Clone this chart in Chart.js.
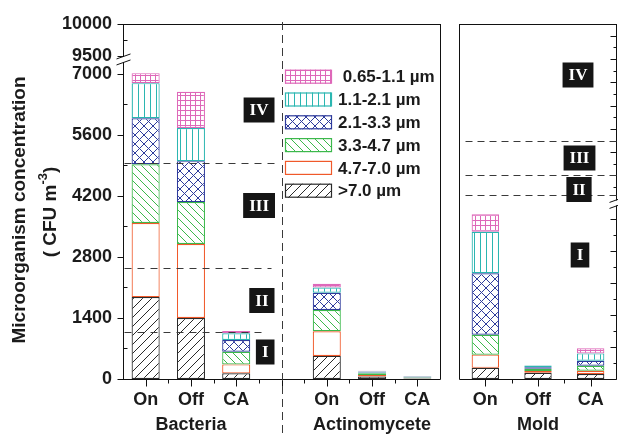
<!DOCTYPE html>
<html><head><meta charset="utf-8">
<script src="https://cdn.jsdelivr.net/npm/chart.js@4.4.1/dist/chart.umd.min.js"></script>
<style>
html,body{margin:0;padding:0;background:#fff;}
#wrap{position:relative;width:618px;height:435px;overflow:hidden;background:#fff;}
canvas{position:absolute;top:0;}
#cl{left:0;} #cm{left:450px;}
</style></head><body>
<div id="wrap"><canvas id="cl" width="450" height="435"></canvas><canvas id="cm" width="168" height="435"></canvas></div>
<script>
// ---------------- DATA ----------------
// size bins, stacking order bottom -> top
const binLabels = ['>7.0 µm', '4.7-7.0 µm', '3.3-4.7 µm', '2.1-3.3 µm', '1.1-2.1 µm', ' 0.65-1.1 µm'];
const leftCategories = ['On', 'Off', 'CA', '', 'On', 'Off', 'CA'];
const leftGroups = ['Bacteria', 'Actinomycete'];
const moldCategories = ['On', 'Off', 'CA'];
const moldGroup = 'Mold';
// Bacteria On/Off/CA, (gap), Actinomycete On/Off/CA  (CFU m-3)
const leftGt70   = [1880, 1400, 130, null, 530, 60, 10];
const left47_70  = [1700, 1700, 205, null, 565, 30, 10];
const left33_47  = [1350,  960, 290, null, 490, 40, 15];
const left21_33  = [1055,  940, 270, null, 395, 20, 10];
const left11_21  = [ 805,  760, 155, null, 120, 20, 15];
const left065_11 = [ 230,  830,  50, null,  85, 20, 10];
// Mold On/Off/CA
const moldGt70   = [140, 78, 62];
const mold47_70  = [165, 22, 42];
const mold33_47  = [250, 28, 62];
const mold21_33  = [770, 18, 63];
const mold11_21  = [520, 22, 92];
const mold065_11 = [220,  5, 63];
// axis ticks
const leftYTicks = [0, 1400, 2800, 4200, 5600, 7000, 9500, 10000];
const leftYTickLabels = ['0', '1400', '2800', '4200', '5600', '7000', '9500', '10000'];
const leftYMinor = [700, 2100, 3500, 4900, 6300, 9750];
const moldYMajor = [0, 400, 800, 1200, 1600, 2000, 3500, 4500, 5500, 6500, 7500, 8500, 9500];
const moldYMinor = [200, 600, 1000, 1400, 1800, 3000, 4000, 5000, 6000, 7000, 8000, 9000];
// pollution level boundaries (I/II, II/III, III/IV)
const leftLevels = [1080, 2540, 4960];
const moldLevels = [2650, 3500, 5000];
const levelNames = ['I', 'II', 'III', 'IV'];

// ---------------- STYLE ----------------
const binColors = ['#2a2a2a', '#f0592a', '#3cb84c', '#2e3b9c', '#2bb6b1', '#de68b9'];
const binKinds  = ['fwd', 'none', 'back', 'cross', 'vert', 'grid'];
const FONT = '"Liberation Sans", Arial, sans-serif';
const SERIF = '"Liberation Serif", "Times New Roman", serif';
const TXT = '#1b1b1b';

// broken-axis transforms
const L_LO = 7300, L_HI = 9500, L_BASE = 7413, L_RATIO = 1.469;
function tL(v) { return v <= L_LO ? v : L_BASE + (v - L_HI) * L_RATIO; }
const M_LO = 2200, M_HI = 2300, M_RATIO = 0.292;
function tM(v) { return v <= M_LO ? v : M_LO + (v - M_HI) * M_RATIO; }

function makePattern(kind, color) {
  const c = document.createElement('canvas');
  const s = {grid: 5, vert: 6, cross: 9, back: 8, fwd: 9, none: 4}[kind];
  c.width = s; c.height = s;
  const g = c.getContext('2d');
  g.fillStyle = '#fff'; g.fillRect(0, 0, s, s);
  g.strokeStyle = color; g.lineWidth = 1;
  g.beginPath();
  if (kind === 'grid') { g.moveTo(0.5, 0); g.lineTo(0.5, s); g.moveTo(0, 0.5); g.lineTo(s, 0.5); }
  if (kind === 'vert') { g.moveTo(0.5, 0); g.lineTo(0.5, s); }
  if (kind === 'back' || kind === 'cross') {
    g.moveTo(-1, -1); g.lineTo(s + 1, s + 1);
    g.moveTo(-1, s - 1); g.lineTo(1, s + 1);
    g.moveTo(s - 1, -1); g.lineTo(s + 1, 1);
  }
  if (kind === 'fwd' || kind === 'cross') {
    g.moveTo(-1, s + 1); g.lineTo(s + 1, -1);
    g.moveTo(-1, 1); g.lineTo(1, -1);
    g.moveTo(s - 1, s + 1); g.lineTo(s + 1, s - 1);
  }
  g.stroke();
  return g.createPattern(c, 'repeat');
}
const binPatterns = binKinds.map((k, i) => makePattern(k, binColors[i]));

function datasets(series, barPct) {
  return series.map((d, i) => ({
    label: binLabels[i], data: d,
    backgroundColor: binPatterns[i], borderColor: binColors[i], borderWidth: 1.2,
    borderSkipped: false, stack: 's', barPercentage: barPct, categoryPercentage: 1
  }));
}

function seg(ctx, x1, y1, x2, y2) { ctx.beginPath(); ctx.moveTo(x1, y1); ctx.lineTo(x2, y2); ctx.stroke(); }
function levelBox(ctx, text, x, cy, anchor) {
  ctx.font = 'bold 17px ' + SERIF;
  const w = ctx.measureText(text).width + 12, h = 25;
  const left = anchor === 'right' ? x - w : x - w / 2;
  ctx.fillStyle = '#151515';
  ctx.fillRect(left, cy - h / 2, w, h);
  ctx.fillStyle = '#fff'; ctx.textAlign = 'center'; ctx.textBaseline = 'middle';
  ctx.fillText(text, left + w / 2, cy + 1);
}
function slashes(ctx, x, yc) {
  ctx.fillStyle = '#fff';
  ctx.fillRect(x - 3, yc - 2.5, 6, 5);
  ctx.strokeStyle = '#111'; ctx.lineWidth = 1;
  seg(ctx, x - 7, yc - 0.5, x + 7, yc - 5.5);
  seg(ctx, x - 7, yc + 5.5, x + 7, yc + 0.5);
}

// ---------------- LEFT PANEL ----------------
const leftDecor = {
  id: 'leftDecor',
  afterDraw(chart) {
    const {ctx, chartArea: a, scales: {x, y}} = chart;
    ctx.save();
    ctx.strokeStyle = '#111'; ctx.lineWidth = 1;
    const L = a.left + 0.5, R = a.right + 0.5, T = a.top + 0.5, B = Math.round(a.bottom) + 0.5;
    seg(ctx, L, a.top, L, B); seg(ctx, L, T, R, T); seg(ctx, R, a.top, R, B); seg(ctx, a.left, B, R, B);
    // y ticks
    leftYTicks.forEach(v => { const p = Math.round(y.getPixelForValue(tL(v))) + 0.5; seg(ctx, L - 6, p, L, p); });
    leftYMinor.forEach(v => { const p = Math.round(y.getPixelForValue(tL(v))) + 0.5; seg(ctx, L, p, L + 4, p); });
    // x ticks
    const n = leftCategories.length;
    for (let i = 0; i < n; i++) {
      const px = Math.round(x.getPixelForTick(i)) + 0.5;
      seg(ctx, px, B, px, B + 7);
      if (i < n - 1) { const q = Math.round((x.getPixelForTick(i) + x.getPixelForTick(i + 1)) / 2) + 0.5; seg(ctx, q, B, q, B + 4); }
    }
    // axis break
    const yb = (y.getPixelForValue(tL(L_LO)) + y.getPixelForValue(tL(L_HI))) / 2 + 1;
    slashes(ctx, L, yb);
    // level dashed lines
    const x3 = x.getPixelForTick(3);
    const ends = [x3 - 15, x3 - 10, x3 - 1];
    ctx.strokeStyle = '#3a3a3a'; ctx.setLineDash([7, 6]);
    leftLevels.forEach((v, i) => { const p = Math.round(y.getPixelForValue(tL(v))) + 0.5; seg(ctx, L + 1, p, ends[i], p); });
    ctx.setLineDash([8, 5]);
    seg(ctx, Math.round(x3) + 0.5, 22, Math.round(x3) + 0.5, 433);
    ctx.setLineDash([]);
    // level boxes
    const boxes = [[352, 274.5], [300.5, 274.5], [205.5, 275], [110, 274.5]];
    boxes.forEach((b, i) => levelBox(ctx, levelNames[i], b[1], b[0], 'right'));
    // legend
    const lx = 285, ly = 76.7, dy = 22.8;
    for (let k = 0; k < binLabels.length; k++) {
      const i = binLabels.length - 1 - k;
      const cy = ly + k * dy;
      ctx.fillStyle = binPatterns[i];
      ctx.fillRect(lx, cy - 7, 47, 14);
      ctx.strokeStyle = binColors[i]; ctx.lineWidth = 1.2;
      ctx.strokeRect(lx + 0.5, cy - 6.5, 46, 13);
      ctx.fillStyle = TXT; ctx.font = 'bold 17px ' + FONT;
      ctx.textAlign = 'left'; ctx.textBaseline = 'middle';
      ctx.fillText(binLabels[i], 338, cy + 1);
    }
    // group titles
    ctx.font = 'bold 18px ' + FONT; ctx.textAlign = 'center'; ctx.textBaseline = 'middle'; ctx.fillStyle = TXT;
    ctx.fillText(leftGroups[0], x.getPixelForTick(1), 425);
    ctx.fillText(leftGroups[1], x.getPixelForTick(5), 425);
    // y title
    ctx.save();
    ctx.translate(20, 210); ctx.rotate(-Math.PI / 2);
    ctx.font = 'bold 19px ' + FONT; ctx.fillText('Microorganism concentration', 0, 0);
    ctx.restore();
    ctx.save();
    ctx.translate(51, 212); ctx.rotate(-Math.PI / 2);
    ctx.textAlign = 'left';
    const f1 = 'bold 19px ' + FONT, f2 = 'bold 13px ' + FONT;
    const p1 = '( CFU m', p2 = '-3', p3 = ')';
    ctx.font = f1; const w1 = ctx.measureText(p1).width, w3 = ctx.measureText(p3).width;
    ctx.font = f2; const w2 = ctx.measureText(p2).width;
    let sx = -(w1 + w2 + w3) / 2;
    ctx.font = f1; ctx.fillText(p1, sx, 0); sx += w1;
    ctx.font = f2; ctx.fillText(p2, sx, -8); sx += w2;
    ctx.font = f1; ctx.fillText(p3, sx, 0);
    ctx.restore();
    ctx.restore();
  }
};

new Chart(document.getElementById('cl'), {
  type: 'bar',
  data: { labels: leftCategories, datasets: datasets([leftGt70, left47_70, left33_47, left21_33, left11_21, left065_11], 0.62) },
  options: {
    responsive: false, animation: false, devicePixelRatio: 1,
    layout: { padding: { left: 0, right: 10, top: 24, bottom: 0 } },
    plugins: { legend: { display: false }, tooltip: { enabled: false } },
    scales: {
      x: {
        stacked: true, offset: true,
        grid: { display: false, drawTicks: false }, border: { display: false },
        ticks: { font: { family: FONT, size: 18, weight: 'bold' }, color: TXT, padding: 10, autoSkip: false, maxRotation: 0 },
        afterFit: s => { s.height = 56; }
      },
      y: {
        stacked: true, min: 0, max: tL(10000),
        grid: { display: false, drawTicks: false }, border: { display: false },
        afterBuildTicks: s => { s.ticks = leftYTicks.map(v => ({ value: tL(v) })); },
        ticks: { autoSkip: false, font: { family: FONT, size: 18, weight: 'bold' }, color: TXT, padding: 11,
                 callback: (v, i) => leftYTickLabels[i] },
        afterFit: s => { s.width = 123; }
      }
    }
  },
  plugins: [leftDecor]
});

// ---------------- MOLD PANEL ----------------
const moldDecor = {
  id: 'moldDecor',
  afterDraw(chart) {
    const {ctx, chartArea: a, scales: {x, y}} = chart;
    ctx.save();
    ctx.strokeStyle = '#111'; ctx.lineWidth = 1;
    const L = Math.round(a.left) + 0.5, R = Math.round(a.right) - 0.5, T = a.top + 0.5, B = Math.round(a.bottom) + 0.5;
    seg(ctx, L, a.top, L, B); seg(ctx, L, T, R, T); seg(ctx, R, a.top, R, B); seg(ctx, L, B, R, B);
    moldYMajor.forEach(v => { const p = Math.round(y.getPixelForValue(tM(v))) + 0.5; seg(ctx, R - 6, p, R, p); });
    moldYMinor.forEach(v => { const p = Math.round(y.getPixelForValue(tM(v))) + 0.5; seg(ctx, R - 3, p, R, p); });
    const n = moldCategories.length;
    for (let i = 0; i < n; i++) {
      const px = Math.round(x.getPixelForTick(i)) + 0.5;
      seg(ctx, px, B, px, B + 7);
      if (i < n - 1) { const q = Math.round((x.getPixelForTick(i) + x.getPixelForTick(i + 1)) / 2) + 0.5; seg(ctx, q, B, q, B + 4); }
    }
    // levels
    ctx.strokeStyle = '#3a3a3a'; ctx.setLineDash([7, 5]);
    moldLevels.forEach(v => { const p = Math.round(y.getPixelForValue(tM(v))) + 0.5; seg(ctx, L + 6, p, R + 2, p); });
    ctx.setLineDash([]);
    // break on right axis
    const yb = y.getPixelForValue(tM(M_LO)) - 0.5;
    slashes(ctx, R, yb);
    const boxes = [[255, 130], [189.5, 129], [158, 129.5], [75, 128]];
    boxes.forEach((b, i) => levelBox(ctx, levelNames[i], b[1], b[0], 'center'));
    ctx.font = 'bold 18px ' + FONT; ctx.textAlign = 'center'; ctx.textBaseline = 'middle'; ctx.fillStyle = TXT;
    ctx.fillText(moldGroup, x.getPixelForTick(1), 425);
    ctx.restore();
  }
};

new Chart(document.getElementById('cm'), {
  type: 'bar',
  data: { labels: moldCategories, datasets: datasets([moldGt70, mold47_70, mold33_47, mold21_33, mold11_21, mold065_11], 0.52) },
  options: {
    responsive: false, animation: false, devicePixelRatio: 1,
    layout: { padding: { left: 9, right: 1, top: 24, bottom: 0 } },
    plugins: { legend: { display: false }, tooltip: { enabled: false } },
    scales: {
      x: {
        stacked: true, offset: true,
        grid: { display: false, drawTicks: false }, border: { display: false },
        ticks: { font: { family: FONT, size: 18, weight: 'bold' }, color: TXT, padding: 10, autoSkip: false, maxRotation: 0 },
        afterFit: s => { s.height = 56; }
      },
      y: {
        position: 'right', stacked: true, min: 0, max: tM(10000),
        grid: { display: false, drawTicks: false }, border: { display: false },
        ticks: { display: false },
        afterFit: s => { s.width = 0; }
      }
    }
  },
  plugins: [moldDecor]
});
</script>
</body></html>
